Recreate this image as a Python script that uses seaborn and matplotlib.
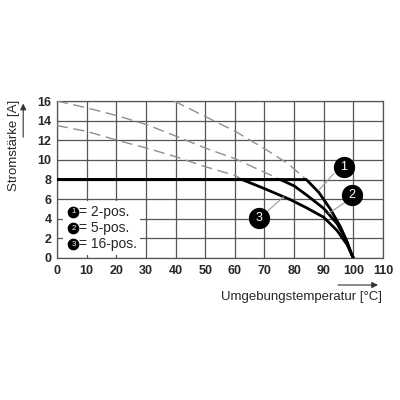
import pandas as pd
import seaborn as sns
import matplotlib.pyplot as plt
from matplotlib.patches import Rectangle

# derating curves (temperature in degC, current in A)
# dashed = unlimited curve, solid = limited to 8 A
c1_dash_t = [39.5, 50.1, 60.2, 70.8, 78.0, 84.1]
c1_dash_i = [16.0, 14.4, 12.9, 11.0, 9.6, 8.0]
c2_dash_t = [0, 10.1, 20.3, 30.2, 40.3, 50.1, 60.2, 75.3]
c2_dash_i = [16.0, 15.3, 14.5, 13.6, 12.4, 11.2, 10.1, 8.0]
c3_dash_t = [0, 10.1, 20.3, 30.2, 40.3, 50.1, 60.2, 62.4]
c3_dash_i = [13.5, 12.9, 12.0, 11.2, 10.3, 9.3, 8.4, 8.0]

c1_t = [0, 84.1, 88.3, 92.2, 95.6, 97.9, 99.5, 100]
c1_i = [8, 8, 6.7, 5.0, 3.2, 1.66, 0.3, 0]
c2_t = [0, 75.3, 80.0, 84.3, 90.0, 94.5, 97.3, 99.0, 100]
c2_i = [8, 8, 7.35, 6.4, 5.05, 3.5, 2.0, 0.7, 0]
c3_t = [0, 62.4, 70.0, 78.7, 84.3, 90.0, 94.5, 97.9, 100]
c3_i = [8, 8, 7.07, 5.95, 5.1, 4.15, 2.8, 1.35, 0]

legend_nums = ['1', '2', '3']
legend_txt = ['= 2-pos.', '= 5-pos.', '= 16-pos.']
xticks = list(range(0, 111, 10))
yticks = list(range(0, 17, 2))

sns.set_style('white')
plt.rcParams['font.family'] = ['Liberation Sans', 'DejaVu Sans']

fig = plt.figure(figsize=(4, 4), dpi=100)
ax = fig.add_axes([0.1425, 0.355, 0.815, 0.3925])

dash = dict(color='#8f8f8f', lw=1.0, dashes=(8, 4), zorder=3)
for t, i in [(c1_dash_t, c1_dash_i), (c2_dash_t, c2_dash_i), (c3_dash_t, c3_dash_i)]:
    df = pd.DataFrame({'t': t, 'i': i})
    sns.lineplot(data=df, x='t', y='i', ax=ax, **dash)

for t, i in [(c1_t, c1_i), (c2_t, c2_i), (c3_t, c3_i)]:
    df = pd.DataFrame({'t': t, 'i': i})
    sns.lineplot(data=df, x='t', y='i', ax=ax, color='black', lw=2.0, zorder=4)

ax.set_xlim(0, 110)
ax.set_ylim(0, 16)
ax.set_xticks(xticks)
ax.set_yticks(yticks)
ax.set_xlabel('')
ax.set_ylabel('')
ax.grid(True, color='#555555', lw=0.9)
ax.set_axisbelow(True)
for s in ax.spines.values():
    s.set_color('#555555')
    s.set_linewidth(0.9)
ax.tick_params(length=2.5, width=0.9, color='#555555', labelsize=9, direction='out')
ax.tick_params(axis='x', pad=2.5)
ax.tick_params(axis='y', pad=1.5)
for lab in ax.get_xticklabels() + ax.get_yticklabels():
    lab.set_fontweight('bold')

# curve callouts
callouts = [('1', 96.7, 9.3, (93.4, 8.6), (88.3, 6.9)),
            ('2', 99.5, 6.4, (97.3, 5.7), (91.7, 4.55)),
            ('3', 68.0, 4.1, (70.8, 4.7), (76.5, 6.25))]
for n, x, y, p0, p1 in callouts:
    ax.plot([p0[0], p1[0]], [p0[1], p1[1]], color='#9a9a9a', lw=0.8, zorder=5)
    ax.scatter([x], [y], s=205, color='black', zorder=6, clip_on=False)
    ax.text(x, y, n, color='white', fontsize=9, ha='center', va='center', zorder=7)

# legend box
ax.add_patch(Rectangle((2.1, 0.3), 25.9, 5.5, facecolor='white', edgecolor='none', zorder=2))
for n, txt, y in zip(legend_nums, legend_txt, [4.72, 3.03, 1.4]):
    ax.scatter([5.5], [y], s=55, color='black', zorder=6)
    ax.text(5.5, y, n, color='white', fontsize=5.5, ha='center', va='center', zorder=7)
    ax.text(7.4, y, txt, fontsize=10, ha='left', va='center', zorder=7)

# axis titles with arrows
fig.text(0.955, 0.258, 'Umgebungstemperatur [°C]', fontsize=9.5, ha='right', va='center')
ax.annotate('', xy=(0.952, 0.2875), xytext=(0.838, 0.2875), xycoords='figure fraction',
            arrowprops=dict(arrowstyle='-|>', color='#333333', lw=0.8, mutation_scale=9))
fig.text(0.034, 0.6375, 'Stromstärke [A]', fontsize=9.5, rotation=90, ha='center', va='center')
ax.annotate('', xy=(0.058, 0.748), xytext=(0.058, 0.65), xycoords='figure fraction',
            arrowprops=dict(arrowstyle='-|>', color='#333333', lw=0.8, mutation_scale=9))

fig.savefig('out.png', dpi=100)
